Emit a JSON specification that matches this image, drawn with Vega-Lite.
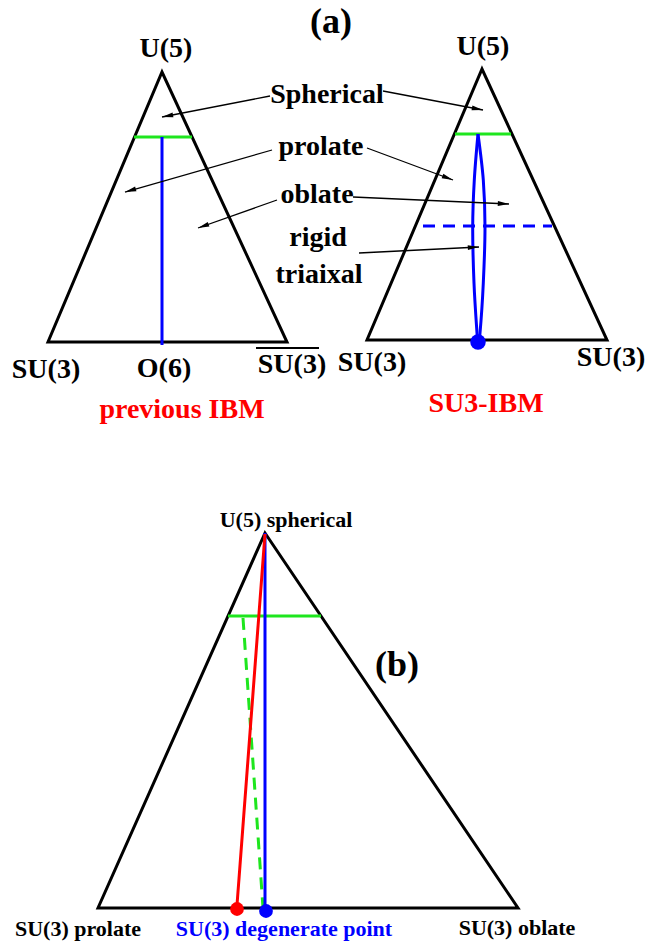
{
  "$schema": "https://vega.github.io/schema/vega-lite/v6.json",
  "width": 647,
  "height": 941,
  "autosize": {"type": "fit", "contains": "padding"},
  "padding": 0,
  "background": "white",
  "config": {"view": {"stroke": null}},
  "datasets": {
    "outline": [
      {"tri": "a-left", "o": 0, "x": 160, "y": 342},
      {"tri": "a-left", "o": 1, "x": 287, "y": 342},
      {"tri": "a-left", "o": 2, "x": 162, "y": 72},
      {"tri": "a-left", "o": 3, "x": 48, "y": 342},
      {"tri": "a-left", "o": 4, "x": 160, "y": 342},
      {"tri": "a-right", "o": 0, "x": 480, "y": 340},
      {"tri": "a-right", "o": 1, "x": 607, "y": 340},
      {"tri": "a-right", "o": 2, "x": 482, "y": 69},
      {"tri": "a-right", "o": 3, "x": 367, "y": 340},
      {"tri": "a-right", "o": 4, "x": 480, "y": 340},
      {"tri": "b", "o": 0, "x": 300, "y": 908},
      {"tri": "b", "o": 1, "x": 518, "y": 908},
      {"tri": "b", "o": 2, "x": 265, "y": 533},
      {"tri": "b", "o": 3, "x": 98, "y": 908},
      {"tri": "b", "o": 4, "x": 300, "y": 908}
    ],
    "segments": [
      {"role": "phase boundary", "line": "solid", "x": 134, "y": 137, "x2": 192, "y2": 137},
      {"role": "phase boundary", "line": "solid", "x": 455, "y": 134, "x2": 511, "y2": 134},
      {"role": "phase boundary", "line": "solid", "x": 228, "y": 616, "x2": 321, "y2": 616},
      {"role": "IBM path", "line": "solid", "x": 162, "y": 137, "x2": 162, "y2": 345},
      {"role": "IBM path", "line": "dashed", "x": 423, "y": 226, "x2": 552, "y2": 226},
      {"role": "phase boundary", "line": "dashed", "x": 243, "y": 618, "x2": 263, "y2": 908},
      {"role": "IBM path", "line": "solid", "x": 265, "y": 533, "x2": 265, "y2": 908},
      {"role": "SU3 path", "line": "solid", "x": 265, "y": 534, "x2": 237, "y2": 905}
    ],
    "lens": [
      {"side": "left", "o": 0, "x": 478, "y": 134},
      {"side": "left", "o": 1, "x": 474.3, "y": 180},
      {"side": "left", "o": 2, "x": 472.7, "y": 227},
      {"side": "left", "o": 3, "x": 474, "y": 283},
      {"side": "left", "o": 4, "x": 477, "y": 333},
      {"side": "left", "o": 5, "x": 478, "y": 342},
      {"side": "right", "o": 0, "x": 478, "y": 134},
      {"side": "right", "o": 1, "x": 483.3, "y": 180},
      {"side": "right", "o": 2, "x": 485, "y": 227},
      {"side": "right", "o": 3, "x": 483.3, "y": 283},
      {"side": "right", "o": 4, "x": 480, "y": 333},
      {"side": "right", "o": 5, "x": 478, "y": 342}
    ],
    "pointers": [
      {"label": "Spherical", "x": 270, "y": 96, "x2": 162, "y2": 117},
      {"label": "Spherical", "x": 383, "y": 91, "x2": 483, "y2": 110},
      {"label": "prolate", "x": 272, "y": 150, "x2": 125, "y2": 192},
      {"label": "prolate", "x": 367, "y": 148, "x2": 453, "y2": 180},
      {"label": "oblate", "x": 277, "y": 200, "x2": 198, "y2": 228},
      {"label": "oblate", "x": 353, "y": 197, "x2": 509, "y2": 204},
      {"label": "rigid triaxial", "x": 359, "y": 253, "x2": 479, "y2": 247}
    ],
    "bars": [
      {"x": 256, "y": 348, "x2": 319, "y2": 348}
    ],
    "dots": [
      {"role": "IBM path", "size": "large", "x": 478, "y": 342},
      {"role": "SU3 path", "size": "small", "x": 237, "y": 909},
      {"role": "IBM path", "size": "small", "x": 266, "y": 911}
    ],
    "labels": [
      {"g": "panel", "t": "(a)", "x": 331, "y": 22},
      {"g": "panel", "t": "(b)", "x": 397, "y": 665},
      {"g": "top", "t": "U(5)", "x": 166, "y": 49},
      {"g": "top", "t": "U(5)", "x": 483, "y": 47},
      {"g": "top", "t": "Spherical", "x": 327, "y": 95},
      {"g": "top", "t": "prolate", "x": 321, "y": 147},
      {"g": "top", "t": "oblate", "x": 317, "y": 195},
      {"g": "top", "t": "rigid", "x": 318, "y": 238},
      {"g": "top", "t": "triaixal", "x": 319, "y": 275},
      {"g": "top", "t": "SU(3)", "x": 46, "y": 370},
      {"g": "top", "t": "O(6)", "x": 164, "y": 369},
      {"g": "top", "t": "SU(3)", "x": 292, "y": 365},
      {"g": "top", "t": "SU(3)", "x": 372, "y": 363},
      {"g": "top", "t": "SU(3)", "x": 611, "y": 358},
      {"g": "name", "t": "previous IBM", "x": 182, "y": 410},
      {"g": "name", "t": "SU3-IBM", "x": 486, "y": 404},
      {"g": "bottom", "t": "U(5) spherical", "x": 286, "y": 520},
      {"g": "bottom", "t": "SU(3) prolate", "x": 78, "y": 929},
      {"g": "bottom", "t": "SU(3) oblate", "x": 517, "y": 928},
      {"g": "bottomblue", "t": "SU(3) degenerate point", "x": 284, "y": 929}
    ]
  },
  "encoding": {
    "x": {"field": "x", "type": "quantitative", "scale": {"domain": [0, 647], "nice": false, "zero": false}, "axis": null},
    "y": {"field": "y", "type": "quantitative", "scale": {"domain": [0, 941], "nice": false, "zero": false, "reverse": true}, "axis": null}
  },
  "layer": [
    {
      "data": {"name": "outline"},
      "mark": {"type": "line", "color": "#000000", "strokeWidth": 3, "strokeJoin": "miter", "strokeCap": "butt"},
      "encoding": {
        "detail": {"field": "tri", "type": "nominal"},
        "order": {"field": "o", "type": "quantitative"}
      }
    },
    {
      "data": {"name": "segments"},
      "mark": {"type": "rule", "strokeWidth": 3},
      "encoding": {
        "x2": {"field": "x2"},
        "y2": {"field": "y2"},
        "color": {"field": "role", "type": "nominal", "scale": {"domain": ["phase boundary", "IBM path", "SU3 path"], "range": ["#1ee61e", "#0000ff", "#ff0000"]}, "legend": null},
        "strokeDash": {"field": "line", "type": "nominal", "scale": {"domain": ["solid", "dashed"], "range": [[1, 0], [12, 8]]}, "legend": null}
      }
    },
    {
      "data": {"name": "lens"},
      "mark": {"type": "line", "color": "#0000ff", "strokeWidth": 3, "interpolate": "cardinal"},
      "encoding": {
        "detail": {"field": "side", "type": "nominal"},
        "order": {"field": "o", "type": "quantitative"}
      }
    },
    {
      "data": {"name": "pointers"},
      "mark": {"type": "rule", "color": "#000000", "strokeWidth": 1.3},
      "encoding": {
        "x2": {"field": "x2"},
        "y2": {"field": "y2"}
      }
    },
    {
      "data": {"name": "pointers"},
      "transform": [
        {"calculate": "atan2(datum.x2 - datum.x, datum.y - datum.y2) * 180 / PI", "as": "ang"}
      ],
      "mark": {"type": "point", "shape": "M0,0L0.6,2.8L-0.6,2.8Z", "size": 64, "filled": true, "color": "#000000", "opacity": 1, "strokeWidth": 0},
      "encoding": {
        "x": {"field": "x2", "type": "quantitative"},
        "y": {"field": "y2", "type": "quantitative"},
        "angle": {"field": "ang", "type": "quantitative", "scale": null}
      }
    },
    {
      "data": {"name": "bars"},
      "mark": {"type": "rule", "color": "#000000", "strokeWidth": 2},
      "encoding": {
        "x2": {"field": "x2"},
        "y2": {"field": "y2"}
      }
    },
    {
      "data": {"name": "dots"},
      "mark": {"type": "point", "shape": "circle", "filled": true, "opacity": 1, "strokeWidth": 0},
      "encoding": {
        "color": {"field": "role", "type": "nominal", "scale": {"domain": ["phase boundary", "IBM path", "SU3 path"], "range": ["#1ee61e", "#0000ff", "#ff0000"]}, "legend": null},
        "size": {"field": "size", "type": "nominal", "scale": {"domain": ["large", "small"], "range": [240, 190]}, "legend": null}
      }
    },
    {
      "data": {"name": "labels"},
      "transform": [{"filter": "datum.g === 'panel'"}],
      "mark": {"type": "text", "font": "Liberation Serif", "fontWeight": "bold", "fontSize": 36, "color": "#000000", "align": "center", "baseline": "middle"},
      "encoding": {"text": {"field": "t"}}
    },
    {
      "data": {"name": "labels"},
      "transform": [{"filter": "datum.g === 'top'"}],
      "mark": {"type": "text", "font": "Liberation Serif", "fontWeight": "bold", "fontSize": 28, "color": "#000000", "align": "center", "baseline": "middle"},
      "encoding": {"text": {"field": "t"}}
    },
    {
      "data": {"name": "labels"},
      "transform": [{"filter": "datum.g === 'name'"}],
      "mark": {"type": "text", "font": "Liberation Serif", "fontWeight": "bold", "fontSize": 28, "color": "#ff0000", "align": "center", "baseline": "middle"},
      "encoding": {"text": {"field": "t"}}
    },
    {
      "data": {"name": "labels"},
      "transform": [{"filter": "datum.g === 'bottom'"}],
      "mark": {"type": "text", "font": "Liberation Serif", "fontWeight": "bold", "fontSize": 22, "color": "#000000", "align": "center", "baseline": "middle"},
      "encoding": {"text": {"field": "t"}}
    },
    {
      "data": {"name": "labels"},
      "transform": [{"filter": "datum.g === 'bottomblue'"}],
      "mark": {"type": "text", "font": "Liberation Serif", "fontWeight": "bold", "fontSize": 22, "color": "#0000ff", "align": "center", "baseline": "middle"},
      "encoding": {"text": {"field": "t"}}
    }
  ]
}
